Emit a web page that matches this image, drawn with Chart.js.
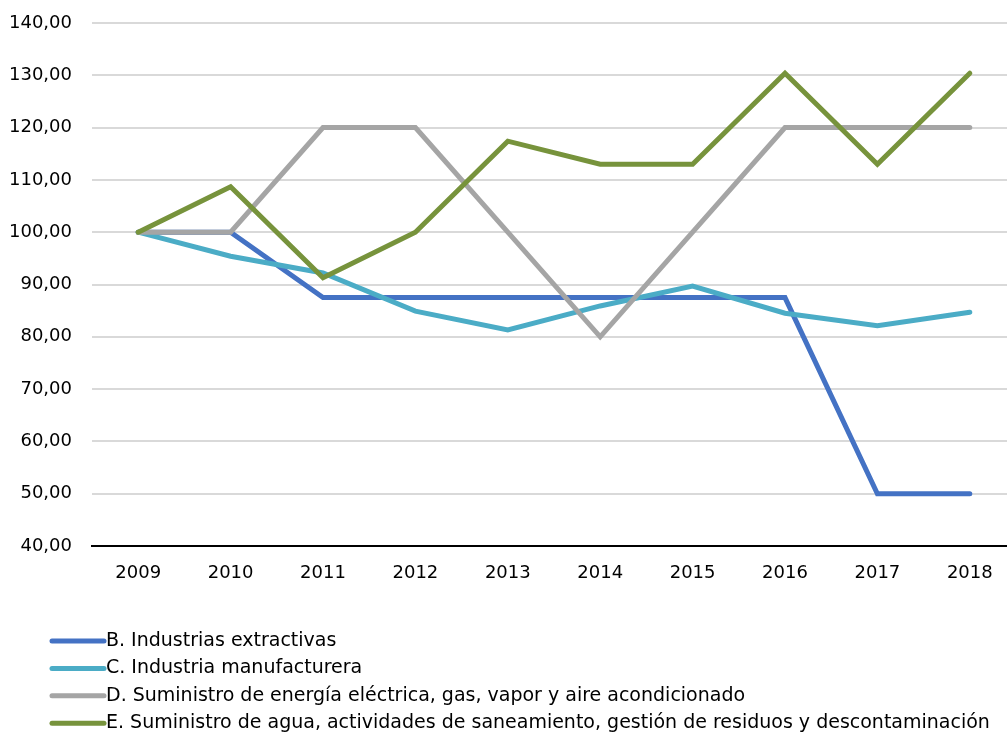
<!DOCTYPE html>
<html>
<head>
<meta charset="utf-8">
<script src="https://cdn.jsdelivr.net/npm/chart.js@4.4.0/dist/chart.umd.min.js"></script>
<style>
    html, body { margin: 0; padding: 0; background: #fff; overflow: hidden; }
    #wrap { width: 1020px; height: 738px; }
</style>
</head>
<body>
<div id="wrap"><canvas id="sectorChart" width="1020" height="738"></canvas></div>
<script>
// Data
const years = ["2009", "2010", "2011", "2012", "2013", "2014", "2015", "2016", "2017", "2018"];
const extractivas = [100, 100, 87.5, 87.5, 87.5, 87.5, 87.5, 87.5, 50, 50];
const manufacturera = [100, 95.4, 92.2, 84.9, 81.3, 85.9, 89.7, 84.5, 82.1, 84.7];
const energia = [100, 100, 120, 120, 100, 80, 100, 120, 120, 120];
const agua = [100, 108.7, 91.3, 100, 117.4, 113, 113, 130.4, 113, 130.4];

const seriesNames = [
    "B. Industrias extractivas",
    "C. Industria manufacturera",
    "D. Suministro de energía eléctrica, gas, vapor y aire acondicionado",
    "E. Suministro de agua, actividades de saneamiento, gestión de residuos y descontaminación"
];
const seriesColors = ["#4472C4", "#4BACC6", "#A5A5A5", "#77933C"];

const yMin = 40;
const yMax = 140;
const yStep = 10;

const FONT = "'DejaVu Sans', sans-serif";

// Legend: one row per series, drawn under the axis
const rowLegend = {
    id: "rowLegend",
    afterDraw(chart) {
        const ctx = chart.ctx;
        ctx.save();
        ctx.font = "19px " + FONT;
        ctx.textBaseline = "middle";
        ctx.textAlign = "left";
        seriesNames.forEach((name, i) => {
            const y = chart.chartArea.bottom + 95 + i * 27.4;
            ctx.strokeStyle = seriesColors[i];
            ctx.lineWidth = 5;
            ctx.lineCap = "round";
            ctx.beginPath();
            ctx.moveTo(52, y);
            ctx.lineTo(104, y);
            ctx.stroke();
            ctx.fillStyle = "#000";
            ctx.fillText(name, 106, y);
        });
        ctx.restore();
    }
};

const seriesData = [extractivas, manufacturera, energia, agua];

new Chart(document.getElementById("sectorChart").getContext("2d"), {
    type: "line",
    data: {
        labels: years,
        datasets: seriesData.map((values, i) => ({
            label: seriesNames[i],
            data: values,
            borderColor: seriesColors[i],
            backgroundColor: seriesColors[i],
            borderWidth: 5,
            borderCapStyle: "round",
            pointRadius: 0,
            tension: 0,
            fill: false,
            order: 4 - i
        }))
    },
    options: {
        responsive: false,
        animation: false,
        layout: { padding: { top: 23, right: 4, bottom: 142, left: 0 } },
        plugins: {
            legend: { display: false },
            tooltip: { enabled: false }
        },
        scales: {
            x: {
                offset: true,
                grid: { display: false },
                border: { display: true, color: "#000", width: 2 },
                ticks: { color: "#000", font: { family: FONT, size: 18 }, padding: 9, maxRotation: 0 },
                afterFit: (scale) => { scale.height = 50; }
            },
            y: {
                min: yMin,
                max: yMax,
                grid: { color: "#D9D9D9", lineWidth: 2, drawTicks: false },
                border: { display: false },
                ticks: {
                    stepSize: yStep,
                    color: "#000",
                    font: { family: FONT, size: 18 },
                    padding: 20,
                    callback: (v) => v.toFixed(2).replace(".", ",")
                },
                afterFit: (scale) => {
                    scale.width = 92;
                    scale.paddingTop = 0;
                    scale.paddingBottom = 0;
                }
            }
        }
    },
    plugins: [rowLegend]
});
</script>
</body>
</html>
